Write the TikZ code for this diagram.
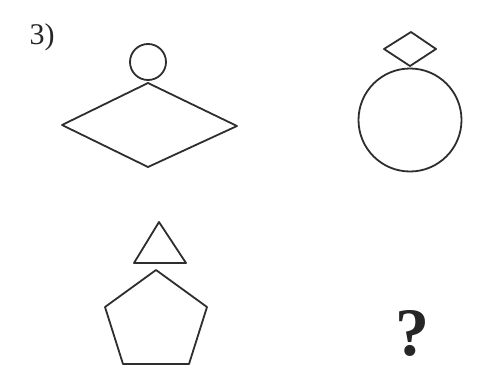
\documentclass[tikz,border=0pt]{standalone}
\usepackage{fontspec}
\setmainfont{Liberation Serif}
\begin{document}
\begin{tikzpicture}[x=1pt,y=-1pt,
  outl/.style={draw=black!82,line width=1.8pt,line join=round},
  lbl/.style={inner sep=0pt,text=black!85}]
\useasboundingbox[fill=white] (0,0) rectangle (479,380);
% label
\node[lbl,font=\fontsize{30}{30}\selectfont] (num) at (42,37) {3)};
% figure 1
\draw[outl] (148,62) circle (18);
\draw[outl] (62,125) -- (148,83) -- (237,126) -- (148,167) -- cycle;
% figure 2
\draw[outl] (411,32) -- (436,49) -- (410,66) -- (384,49) -- cycle;
\draw[outl] (410,120) circle (51.5);
% figure 3
\draw[outl] (159,222) -- (186,263) -- (134,263) -- cycle;
\draw[outl] (156,270) -- (207,307) -- (189,364) -- (123,364) -- (105,307) -- cycle;
% question
\node[lbl,font=\fontsize{68}{68}\selectfont\bfseries] (q) at (412,333) {?};
\end{tikzpicture}
\end{document}
